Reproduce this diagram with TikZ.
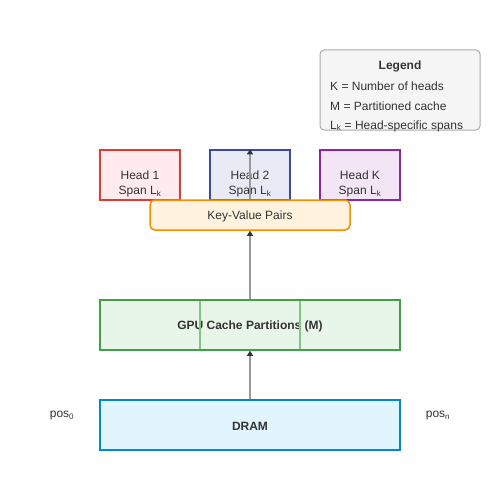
\documentclass[tikz,border=0pt]{standalone}
\usepackage{fontspec}
\setmainfont{Liberation Sans}
\usetikzlibrary{arrows.meta}

\definecolor{txtgray}{HTML}{333333}
\definecolor{arrgray}{HTML}{999999}
\definecolor{tipgray}{HTML}{333333}
\definecolor{headredline}{HTML}{E53935}
\definecolor{headredfill}{HTML}{FFEBEE}
\definecolor{headblueline}{HTML}{3949AB}
\definecolor{headbluefill}{HTML}{E8EAF6}
\definecolor{headpurpline}{HTML}{8E24AA}
\definecolor{headpurpfill}{HTML}{F3E5F5}
\definecolor{kvline}{HTML}{FB8C00}
\definecolor{kvfill}{HTML}{FFF3E0}
\definecolor{gpuline}{HTML}{43A047}
\definecolor{gpufill}{HTML}{E8F5E9}
\definecolor{gpudiv}{HTML}{81C784}
\definecolor{dramline}{HTML}{0288D1}
\definecolor{dramfill}{HTML}{E1F5FE}
\definecolor{legline}{HTML}{AAAAAA}
\definecolor{legfill}{HTML}{F5F5F5}

\tikzset{
    box/.style = {draw, line width=1.5pt, inner sep=0pt},
    headbox/.style = {box, minimum width=80pt, minimum height=50pt},
    txt/.style = {text=txtgray, inner sep=0pt, align=center, font=\fontsize{12}{15}\selectfont},
    flow/.style = {draw=arrgray, line width=1.5pt, -{Triangle[length=5pt, width=6pt, color=tipgray]}}
}

\begin{document}
\begin{tikzpicture}[x=1pt, y=-1pt]
    \useasboundingbox (0,0) rectangle (500,500);

    % legend
    \node[box, draw=legline, fill=legfill, line width=1pt, rounded corners=4pt,
          minimum width=160pt, minimum height=80pt] (legend) at (400,90) {};
    \node[txt, font=\fontsize{12}{15}\selectfont\bfseries] (legtitle) at (400,66) {Legend};
    \node[txt, anchor=west] (legk) at (330,86) {K = Number of heads};
    \node[txt, anchor=west] (legm) at (330,106) {M = Partitioned cache};
    \node[txt, anchor=west] (legl) at (330,126) {L\textsubscript{k} = Head-specific spans};

    % heads
    \node[headbox, draw=headredline, fill=headredfill] (head1) at (140,175) {};
    \node[txt] (head1txt) at (140,184) {Head 1\\Span L\textsubscript{k}};
    \node[headbox, draw=headblueline, fill=headbluefill] (head2) at (250,175) {};
    \node[txt] (head2txt) at (250,184) {Head 2\\Span L\textsubscript{k}};
    \node[headbox, draw=headpurpline, fill=headpurpfill] (headk) at (360,175) {};
    \node[txt] (headktxt) at (360,184) {Head K\\Span L\textsubscript{k}};

    % key-value pairs
    \node[box, draw=kvline, fill=kvfill, rounded corners=5pt,
          minimum width=200pt, minimum height=30pt] (kv) at (250,215) {};
    \node[txt] (kvtxt) at (250,216) {Key-Value Pairs};

    % gpu cache partitions
    \node[box, draw=gpuline, fill=gpufill, minimum width=300pt, minimum height=50pt] (gpu) at (250,325) {};
    \node[txt, font=\fontsize{12}{15}\selectfont\bfseries] (gputxt) at (250,326) {GPU Cache Partitions (M)};
    \draw[gpudiv, line width=1.2pt] (200,301) -- (200,349) (300,301) -- (300,349);

    % dram
    \node[box, draw=dramline, fill=dramfill, minimum width=300pt, minimum height=50pt] (dram) at (250,425) {};
    \node[txt, font=\fontsize{12}{15}\selectfont\bfseries] (dramtxt) at (250,426) {DRAM};
    \node[txt] (posleft) at (62,416) {pos\textsubscript{0}};
    \node[txt] (posright) at (438,416) {pos\textsubscript{n}};

    % arrows
    \draw[flow] (dram.north) -- (gpu.south);
    \draw[flow] (gpu.north) -- (kv.south);
    \draw[flow] (kv.north) -- (head2.north);
\end{tikzpicture}
\end{document}
